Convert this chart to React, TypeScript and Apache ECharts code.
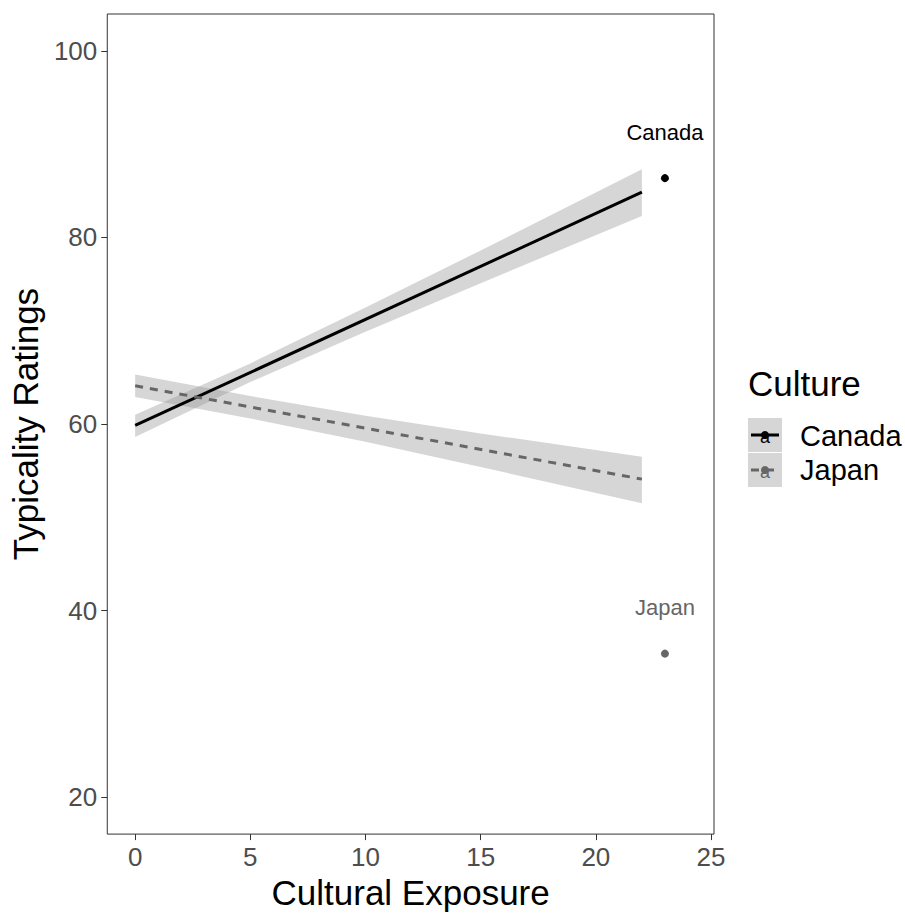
import React, { useEffect, useRef } from "react";
import * as echarts from "echarts";

// ---- data ----
const bandX = [0, 5, 10, 15, 22];
const canadaLower = [58.6, 64.5, 69.9, 75.1, 82.3];
const canadaUpper = [61.0, 66.5, 72.5, 78.6, 87.3];
const japanLower = [62.9, 60.6, 58.1, 55.4, 51.5];
const japanUpper = [65.3, 63.0, 60.9, 59.0, 56.5];

const fitX = [0, 22];
const canadaFit = [59.85, 84.85];
const japanFit = [64.1, 54.1];

const pointNames = ["Canada", "Japan"];
const pointX = [23, 23];
const pointY = [86.35, 35.4];

const xTicks = [0, 5, 10, 15, 20, 25];
const yTicks = [20, 40, 60, 80, 100];

const FONT = "'Liberation Sans', Arial, sans-serif";
const BAND_FILL = "rgba(153,153,153,0.4)";
const JAPAN_COLOR = "#666666";

function bandSeries(lower: number[], upper: number[]) {
  return {
    type: "custom",
    silent: true,
    z: 1,
    data: [[0, 0]],
    renderItem: (_params: any, api: any) => {
      const pts: number[][] = [];
      for (let i = 0; i < bandX.length; i++) pts.push(api.coord([bandX[i], upper[i]]));
      for (let i = bandX.length - 1; i >= 0; i--) pts.push(api.coord([bandX[i], lower[i]]));
      return {
        type: "polygon",
        shape: { points: pts },
        style: { fill: BAND_FILL, stroke: "none" },
      };
    },
  };
}

export default function App() {
  const ref = useRef<HTMLDivElement>(null);
  useEffect(() => {
    if (!ref.current) return;
    const chart = echarts.init(ref.current, null, { renderer: "svg" });
    const legendX = 748;
    const option: any = {
      animation: false,
      backgroundColor: "#ffffff",
      grid: {
        left: 107,
        right: 191,
        top: 14,
        bottom: 75,
        show: true,
        borderColor: "#333333",
        borderWidth: 1,
        backgroundColor: "transparent",
      },
      xAxis: {
        type: "value",
        min: -1.21,
        max: 25.13,
        name: "Cultural Exposure",
        nameLocation: "middle",
        nameGap: 40,
        nameTextStyle: { fontFamily: FONT, fontSize: 35, color: "#000000" },
        axisLine: { show: false, onZero: false },
        splitLine: { show: false },
        axisTick: { show: true, length: 6, lineStyle: { color: "#333333", width: 1 }, customValues: xTicks },
        axisLabel: { show: true, margin: 10, fontFamily: FONT, fontSize: 26, color: "#4d4d4d", customValues: xTicks },
      },
      yAxis: {
        type: "value",
        min: 16.06,
        max: 103.94,
        name: "Typicality Ratings",
        nameLocation: "middle",
        nameGap: 58,
        nameTextStyle: { fontFamily: FONT, fontSize: 35, color: "#000000" },
        axisLine: { show: false, onZero: false },
        splitLine: { show: false },
        axisTick: { show: true, length: 6, lineStyle: { color: "#333333", width: 1 }, customValues: yTicks },
        axisLabel: { show: true, margin: 10, fontFamily: FONT, fontSize: 26, color: "#4d4d4d", customValues: yTicks },
      },
      series: [
        bandSeries(canadaLower, canadaUpper),
        bandSeries(japanLower, japanUpper),
        {
          type: "line",
          name: "Canada",
          z: 3,
          data: fitX.map((x, i) => [x, canadaFit[i]]),
          showSymbol: false,
          lineStyle: { color: "#000000", width: 3 },
          silent: true,
        },
        {
          type: "line",
          name: "Japan",
          z: 3,
          data: fitX.map((x, i) => [x, japanFit[i]]),
          showSymbol: false,
          lineStyle: { color: JAPAN_COLOR, width: 3, type: [8, 7] },
          silent: true,
        },
        {
          type: "scatter",
          z: 4,
          symbol: "circle",
          symbolSize: 8,
          data: pointNames.map((n, i) => ({
            name: n,
            value: [pointX[i], pointY[i]],
            itemStyle: { color: i === 0 ? "#000000" : JAPAN_COLOR, opacity: 1 },
            label: { color: i === 0 ? "#000000" : JAPAN_COLOR },
          })),
          label: {
            show: true,
            position: "top",
            distance: 31,
            formatter: (p: any) => p.name,
            fontFamily: FONT,
            fontSize: 22,
          },
        },
      ],
      graphic: [
        {
          type: "text",
          left: legendX,
          top: 366,
          style: { text: "Culture", font: `35px ${FONT}`, fill: "#000000" },
        },
        { type: "rect", shape: { x: legendX, y: 418, width: 34, height: 34 }, style: { fill: "#d6d6d6" } },
        { type: "rect", shape: { x: legendX, y: 453, width: 34, height: 34 }, style: { fill: "#d6d6d6" } },
        { type: "line", shape: { x1: legendX + 3, y1: 435, x2: legendX + 31, y2: 435 }, style: { stroke: "#000000", lineWidth: 3 } },
        { type: "circle", shape: { cx: legendX + 17, cy: 435, r: 4 }, style: { fill: "#000000" } },
        { type: "text", x: legendX + 17, y: 437, style: { text: "a", font: `18px ${FONT}`, fill: "#000000", align: "center", verticalAlign: "middle" } },
        { type: "line", shape: { x1: legendX + 3, y1: 470, x2: legendX + 31, y2: 470 }, style: { stroke: JAPAN_COLOR, lineWidth: 3, lineDash: [8, 7] } },
        { type: "circle", shape: { cx: legendX + 17, cy: 470, r: 4 }, style: { fill: JAPAN_COLOR } },
        { type: "text", x: legendX + 17, y: 472, style: { text: "a", font: `18px ${FONT}`, fill: JAPAN_COLOR, align: "center", verticalAlign: "middle" } },
        { type: "text", x: 800, y: 436, style: { text: "Canada", font: `29px ${FONT}`, fill: "#000000", verticalAlign: "middle" } },
        { type: "text", x: 800, y: 470, style: { text: "Japan", font: `29px ${FONT}`, fill: "#000000", verticalAlign: "middle" } },
      ],
    };
    chart.setOption(option);
    return () => chart.dispose();
  }, []);
  return (
    <div
      ref={ref}
      style={{ position: "absolute", left: 0, top: 0, width: 905, height: 915, overflow: "hidden" }}
    />
  );
}
